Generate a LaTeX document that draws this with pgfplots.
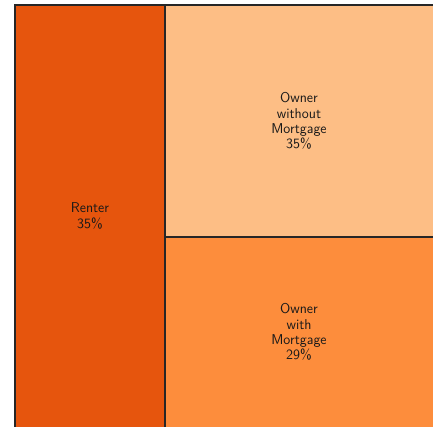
\documentclass[border=0pt]{standalone}
\usepackage{pgfplots}
\pgfplotsset{compat=1.18}
\definecolor{cRenter}{HTML}{E6550D}
\definecolor{cWithout}{HTML}{FDBE85}
\definecolor{cWith}{HTML}{FD8D3C}
\begin{document}
\begin{tikzpicture}
\begin{axis}[
  width=433bp, height=427bp, scale only axis,
  xmin=0, xmax=433, ymin=0, ymax=427,
  hide axis, clip=true,
]
\addplot[fill=white, draw=none] coordinates {(0,0) (433,0) (433,427) (0,427)} --cycle;
% Renter
\addplot[fill=cRenter, draw=black!85, line width=1.1bp] coordinates {(15,-2) (165,-2) (165,422) (15,422)} --cycle;
% Owner without Mortgage
\addplot[fill=cWithout, draw=black!85, line width=1.1bp] coordinates {(165,190) (436,190) (436,422) (165,422)} --cycle;
% Owner with Mortgage
\addplot[fill=cWith, draw=black!85, line width=1.1bp] coordinates {(165,-2) (436,-2) (436,190) (165,190)} --cycle;
\node[align=center, text=black!90, font=\sffamily\fontsize{14.3}{15.4}\selectfont] at (axis cs:90,211) {Renter\\35\%};
\node[align=center, text=black!90, font=\sffamily\fontsize{14.3}{15.4}\selectfont] at (axis cs:299,306) {Owner\\without\\Mortgage\\35\%};
\node[align=center, text=black!90, font=\sffamily\fontsize{14.3}{15.4}\selectfont] at (axis cs:299,95) {Owner\\with\\Mortgage\\29\%};
\end{axis}
\end{tikzpicture}
\end{document}
